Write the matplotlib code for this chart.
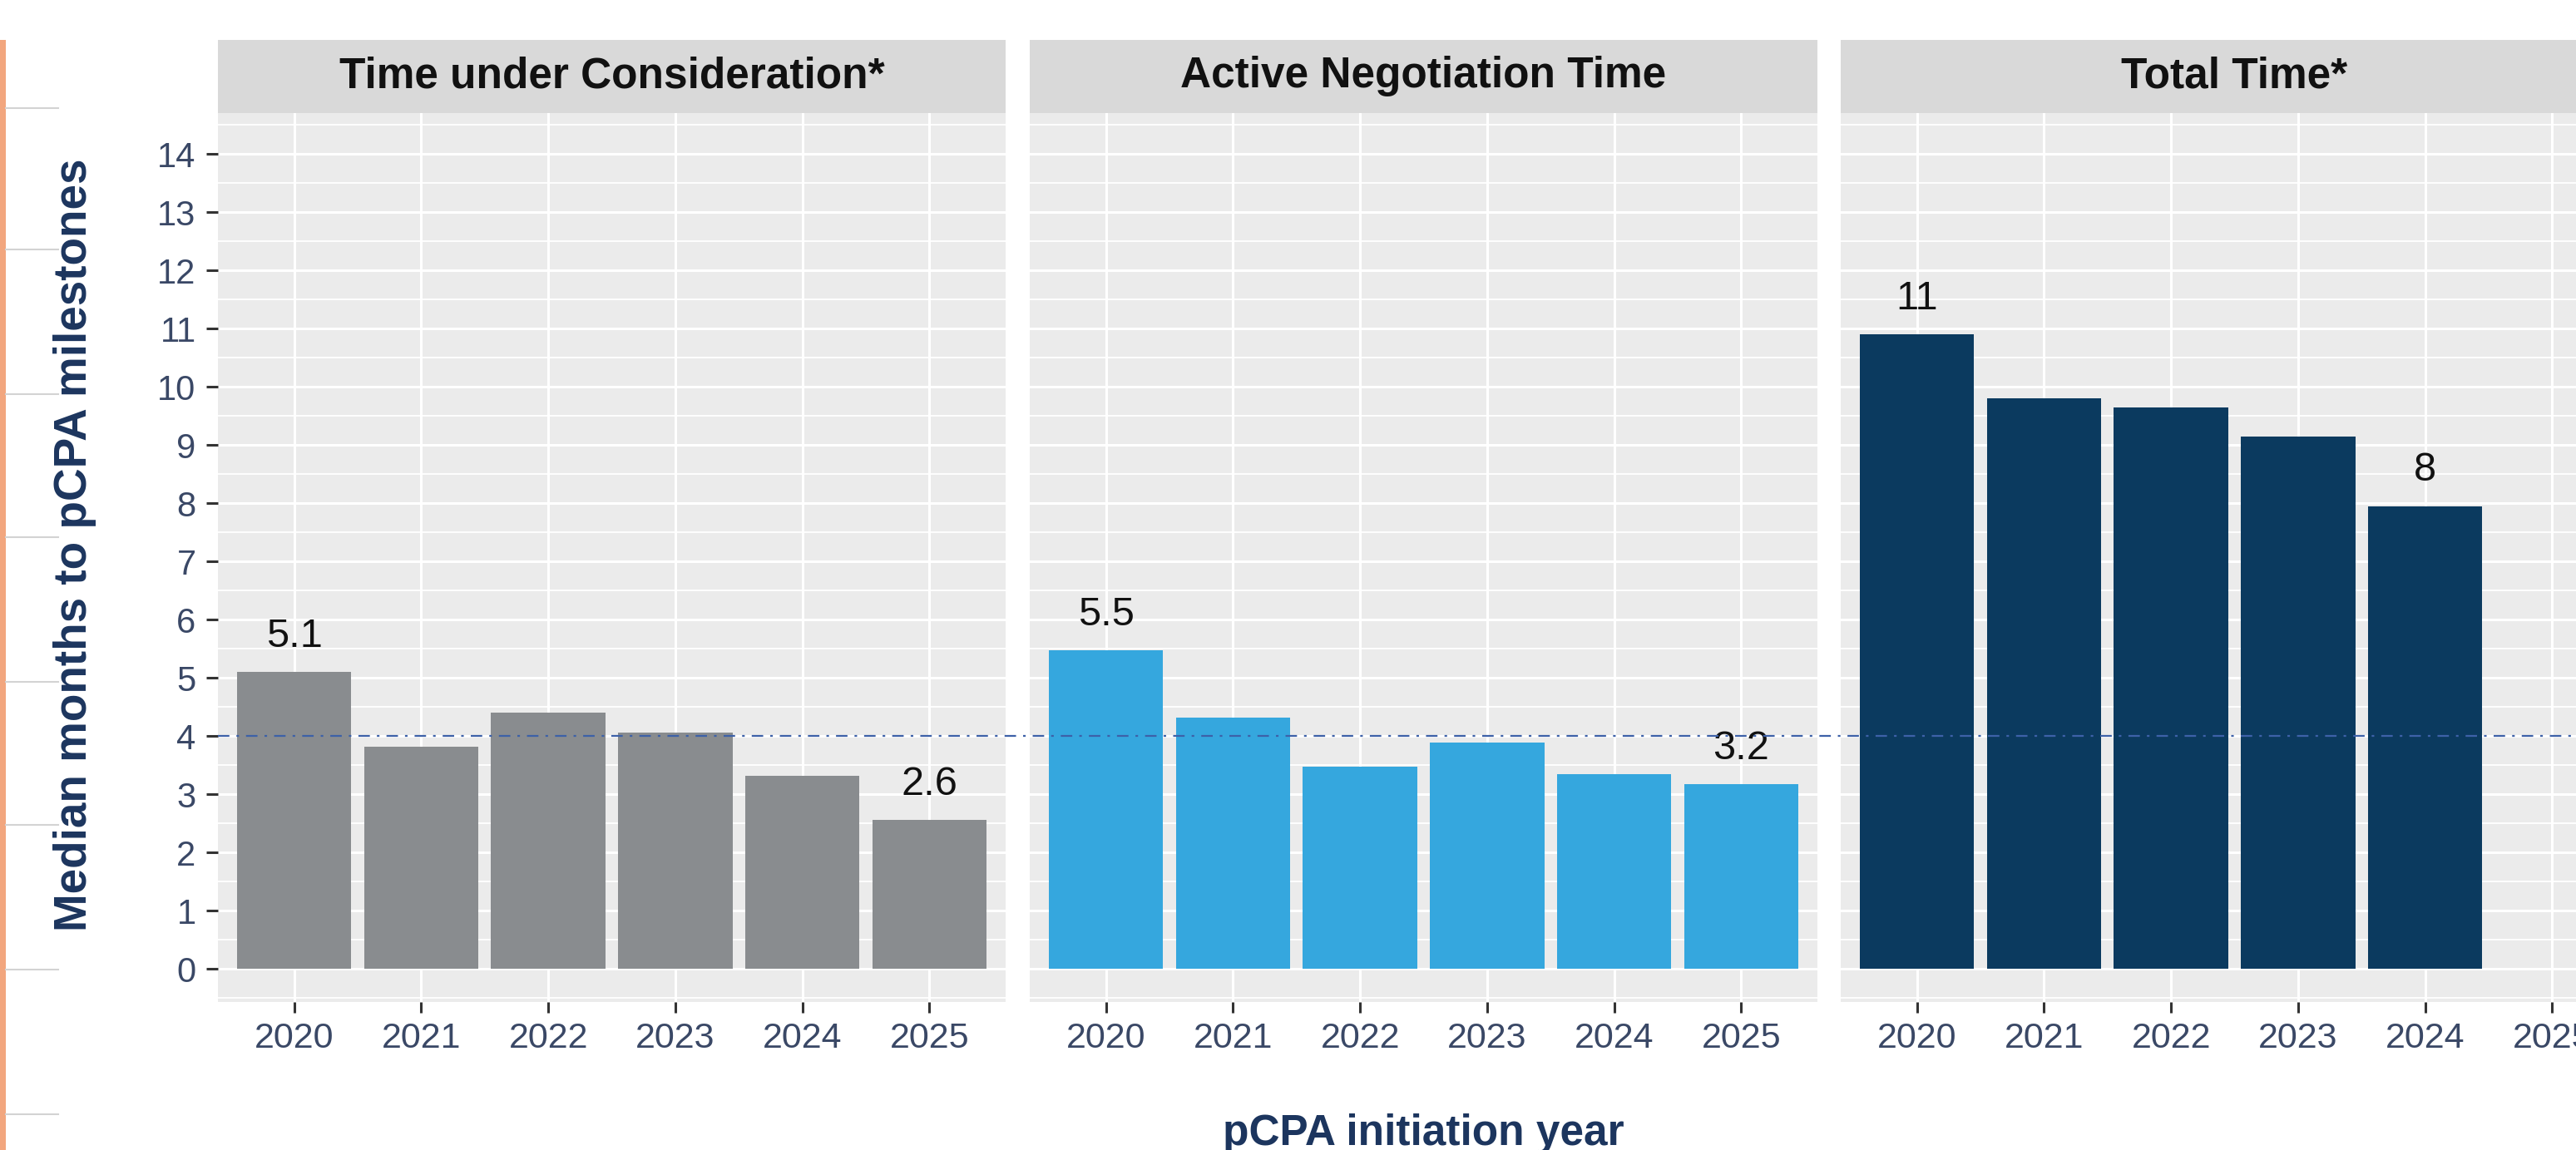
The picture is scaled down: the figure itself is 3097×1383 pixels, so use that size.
import matplotlib
matplotlib.use("Agg")
from matplotlib import pyplot as plt
from matplotlib.patches import Rectangle
from matplotlib.lines import Line2D
from matplotlib.ticker import MultipleLocator
import matplotlib.transforms as mtransforms

plt.rcParams['font.family'] = ['Liberation Sans', 'DejaVu Sans']

# data
years = ['2020', '2021', '2022', '2023', '2024', '2025']
panel_titles = ['Time under Consideration*', 'Active Negotiation Time', 'Total Time*']

consideration = [5.1, 3.82, 4.40, 4.06, 3.32, 2.56]
negotiation = [5.47, 4.31, 3.47, 3.89, 3.35, 3.17]
total = [10.9, 9.8, 9.64, 9.14, 7.95]          # no 2025 value

consideration_labels = ['5.1', '', '', '', '', '2.6']
negotiation_labels = ['5.5', '', '', '', '', '3.2']
total_labels = ['11', '', '', '', '8']

target_line = 4

series = [consideration, negotiation, total]
bar_labels = [consideration_labels, negotiation_labels, total_labels]
colors = ['#898c8f', '#35a7de', '#0b3a5f']

W, H = 3097, 1383
navy = '#1c355e'
tick_col = '#3a4866'

fig = plt.figure(figsize=(W / 100, H / 100), dpi=100)

panel_left = [262, 1238, 2213]
panel_w = 947
panel_top, panel_bot = 136, 1205
axes = []
for i in range(3):
    ax = fig.add_axes([panel_left[i] / W, 1 - panel_bot / H,
                       panel_w / W, (panel_bot - panel_top) / H])
    axes.append(ax)
    vals = series[i]
    xs = list(range(len(vals)))
    ax.set_facecolor('#ebebeb')
    ax.bar(xs, vals, width=0.9, color=colors[i], zorder=3)
    for x, v, lab in zip(xs, vals, bar_labels[i]):
        if lab:
            ax.text(x, v + 0.43, lab, ha='center', va='baseline',
                    fontsize=35, color='#111111', zorder=4)

    ax.set_xlim(-0.6, 5.6)
    ax.set_ylim(-0.57, 14.7)
    ax.set_xticks(range(len(years)))
    ax.set_xticklabels(years)
    ax.yaxis.set_major_locator(MultipleLocator(1))
    ax.yaxis.set_minor_locator(MultipleLocator(0.5))
    ax.grid(which='major', color='white', linewidth=2.2, zorder=0)
    ax.grid(which='minor', axis='y', color='white', linewidth=1.3, zorder=0)
    ax.set_axisbelow(True)
    for s in ax.spines.values():
        s.set_visible(False)
    ax.tick_params(axis='x', length=9, width=2.2, color='#333333', pad=8,
                   labelsize=31, labelcolor=tick_col)
    ax.tick_params(axis='y', which='minor', length=0)
    if i == 0:
        ax.tick_params(axis='y', which='major', length=10, width=2.2,
                       color='#333333', pad=9, labelsize=30, labelcolor=tick_col)
    else:
        ax.tick_params(axis='y', which='both', left=False, labelleft=False)

    # facet strip
    strip_h = (panel_top - 48) / (panel_bot - panel_top)
    ax.add_patch(Rectangle((0, 1), 1, strip_h, transform=ax.transAxes,
                           facecolor='#d9d9d9', edgecolor='none', clip_on=False))
    ax.text(0.5, 1 + strip_h / 2, panel_titles[i], transform=ax.transAxes,
            ha='center', va='center', fontsize=37, fontweight='bold', color='#111111')

# dash-dot reference line across all panels
trans = mtransforms.blended_transform_factory(fig.transFigure, axes[0].transData)
fig.add_artist(Line2D([panel_left[0] / W, 1.0], [target_line, target_line],
                      transform=trans, color='#3d61a8', linewidth=1.6,
                      dashes=(6.2, 3.8, 1.4, 3.8), zorder=10))

# axis titles
fig.text(90 / W, 1 - 655 / H, 'Median months to pCPA milestones',
         rotation=90, ha='center', va='center', fontsize=39.5, fontweight='bold', color=navy)
fig.text((panel_left[0] + panel_left[2] + panel_w) / 2 / W, 1 - 1377 / H,
         'pCPA initiation year', ha='center', va='baseline',
         fontsize=37, fontweight='bold', color=navy)

# page decoration on the left edge
fig.add_artist(Rectangle((0, 0), 7 / W, 1 - 48 / H, transform=fig.transFigure,
                         facecolor='#f2a67e', edgecolor='none'))
for yy in [130, 300, 474, 646, 820, 992, 1166, 1340]:
    fig.add_artist(Line2D([7 / W, 70 / W], [1 - yy / H, 1 - yy / H],
                          transform=fig.transFigure, color='#d3d3d3', linewidth=1.5))

fig.savefig('out.png', dpi=100)
